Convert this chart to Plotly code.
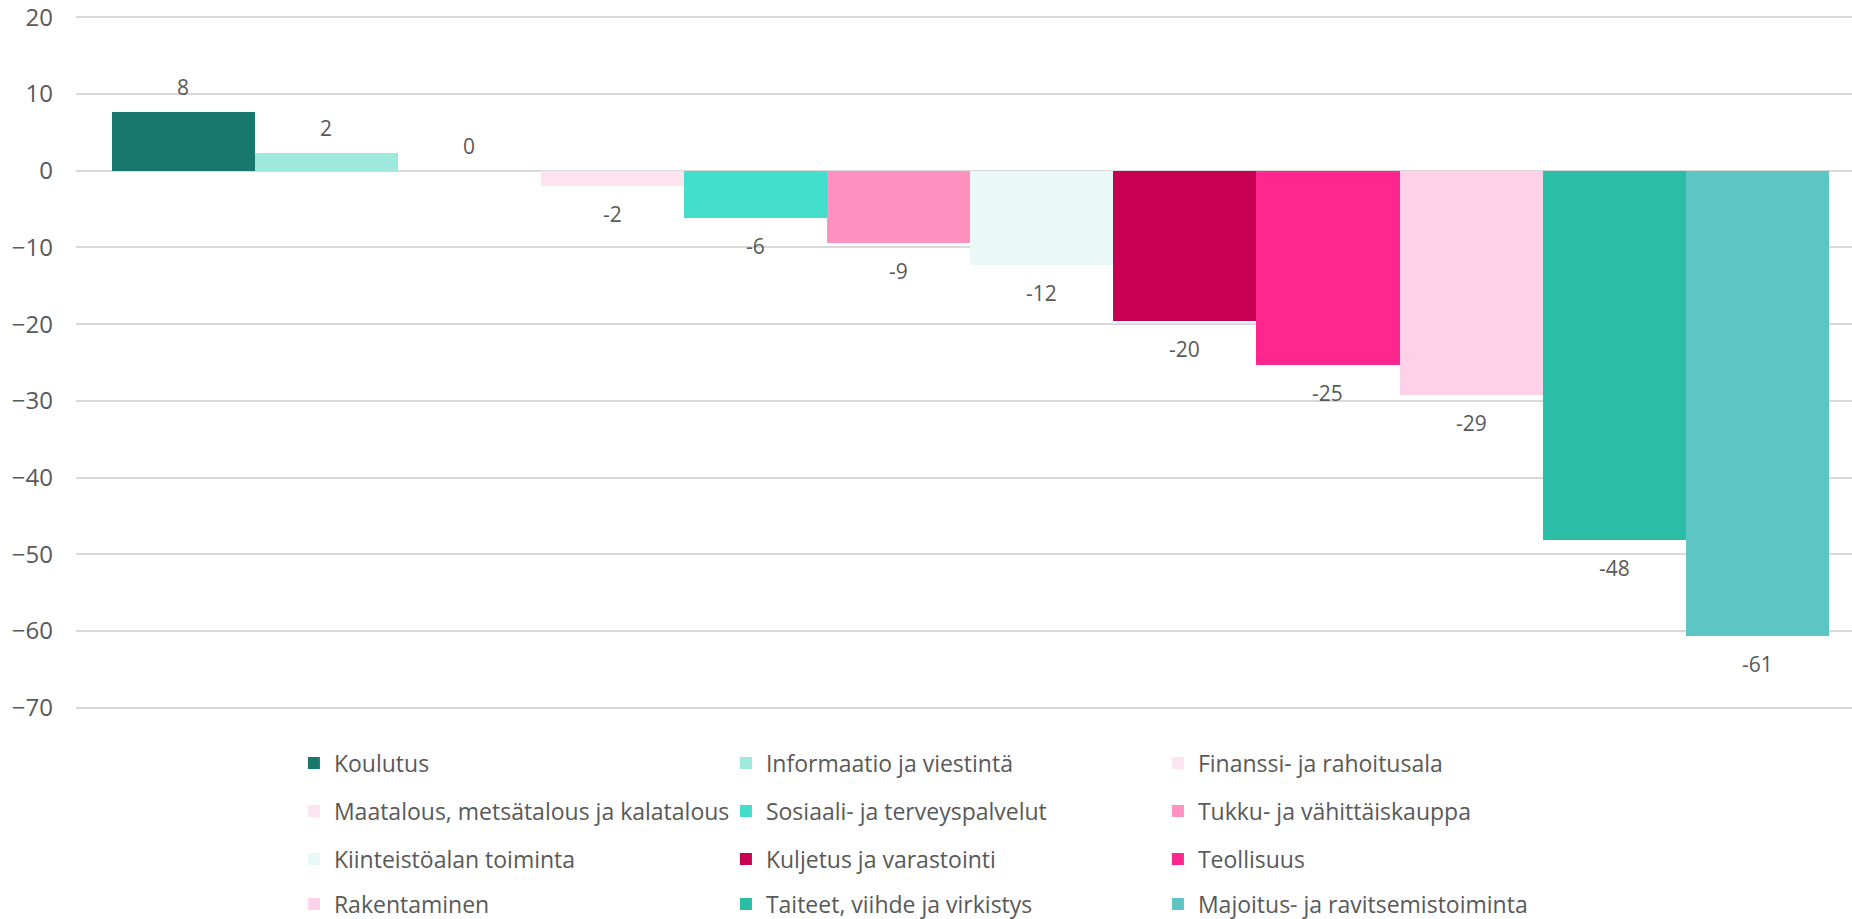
import plotly.graph_objects as go

# toimialat ja muutos (%)
sectors = [
    "Koulutus",
    "Informaatio ja viestintä",
    "Finanssi- ja rahoitusala",
    "Maatalous, metsätalous ja kalatalous",
    "Sosiaali- ja terveyspalvelut",
    "Tukku- ja vähittäiskauppa",
    "Kiinteistöalan toiminta",
    "Kuljetus ja varastointi",
    "Teollisuus",
    "Rakentaminen",
    "Taiteet, viihde ja virkistys",
    "Majoitus- ja ravitsemistoiminta",
]
change = [7.7, 2.3, 0.0, -2.0, -6.2, -9.4, -12.3, -19.6, -25.3, -29.2, -48.2, -60.7]
colors = [
    "#18786F", "#9EE8DC", "#FDE4F0", "#FDE4F0", "#43DDCB", "#FF91C1",
    "#EBF8F8", "#C70052", "#FF268E", "#FFD1E9", "#2CBDA7", "#5DC6C5",
]
y_ticks = [20, 10, 0, -10, -20, -30, -40, -50, -60, -70]

FONT = "Open Sans"
GREY = "#595959"

fig = go.Figure()

for i, (name, val, col) in enumerate(zip(sectors, change, colors)):
    leg = "legend" if i < 3 else f"legend{i // 3 + 1}"
    fig.add_trace(go.Bar(
        x=[i], y=[val], width=[1], name=name,
        marker=dict(color=col, line=dict(width=0)),
        legend=leg,
    ))
    fig.add_annotation(
        x=i, y=val, text=f"{val:.0f}", showarrow=False,
        yshift=25 if val >= 0 else -28,
        font=dict(family=FONT, size=21, color=GREY),
    )

# one legend per row, three columns
row_y = [-0.0763, -0.1453, -0.2144, -0.2791]
legends = {}
for r, yy in enumerate(row_y):
    key = "legend" if r == 0 else f"legend{r + 1}"
    legends[key] = dict(
        orientation="h", x=0.1227, xanchor="left", y=yy, yanchor="middle",
        entrywidth=387, entrywidthmode="pixels",
        font=dict(family=FONT, size=23, color=GREY),
        bgcolor="rgba(0,0,0,0)", traceorder="normal",
    )

fig.update_layout(
    width=1852, height=919,
    margin=dict(l=76, r=0, t=15, b=209, autoexpand=False),
    paper_bgcolor="white", plot_bgcolor="white",
    font=dict(family=FONT, color=GREY),
    barmode="overlay", bargap=0,
    showlegend=True,
    **legends,
)

fig.update_xaxes(range=[-0.749, 11.662], visible=False, showgrid=False, zeroline=False)
fig.update_yaxes(
    range=[-70.3, 20.3], tickvals=y_ticks, showgrid=True, gridcolor="#D9D9D9", gridwidth=1.5,
    zeroline=False, ticks="", ticklabelstandoff=22, automargin=False,
    ticklabeloverflow="allow",
    tickfont=dict(family=FONT, size=24, color=GREY),
)

# drop the browser's default 8px body margin so the figure fills the window
fig.write_html(
    "out.html",
    config={"displayModeBar": False},
    post_script="document.body.style.margin = '0';",
)
